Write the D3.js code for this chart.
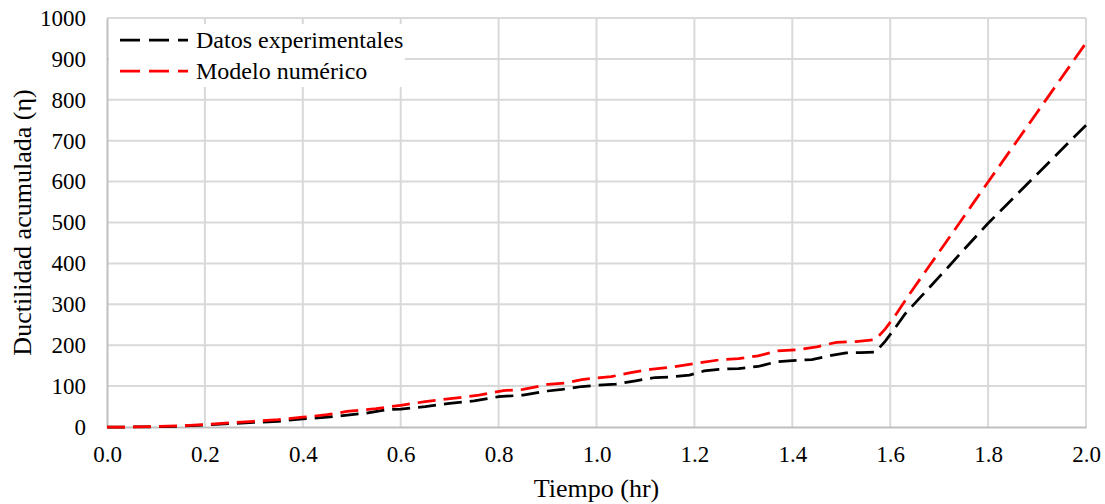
<!DOCTYPE html>
<html>
<head>
<meta charset="utf-8">
<style>
  body { margin: 0; background: #fff; }
  text { font-family: "Liberation Serif", "Times New Roman", serif; fill: #000; }
</style>
<title>Ductilidad acumulada</title>
</head>
<body>
<script src="https://cdn.jsdelivr.net/npm/d3@7"></script>
<script>

// DATA
var xTicks = [0, 0.2, 0.4, 0.6, 0.8, 1.0, 1.2, 1.4, 1.6, 1.8, 2.0];
var yTicks = [0, 100, 200, 300, 400, 500, 600, 700, 800, 900, 1000];

var expTime = [0, 0.05, 0.1, 0.15, 0.2, 0.25, 0.3, 0.35, 0.4, 0.45, 0.5, 0.53, 0.57, 0.6, 0.65, 0.7, 0.75,
  0.8, 0.85, 0.9, 0.93, 0.97, 1.0, 1.04, 1.08, 1.12, 1.15, 1.19, 1.22, 1.25, 1.29, 1.33, 1.37, 1.40,
  1.44, 1.48, 1.51, 1.54, 1.57, 1.59, 1.61, 1.63, 1.66, 1.68, 1.70, 1.72, 1.75, 1.78, 1.80, 1.84,
  1.88, 1.92, 1.96, 2.0];
var expValue = [0, 0, 0.5, 2, 5, 8, 11, 14, 20, 24, 30, 34, 42, 44, 50, 58, 64,
  74, 78, 88, 92, 99, 102, 105, 113, 121, 122, 127, 137, 141, 143, 148, 160, 162,
  165, 175, 181, 182, 183, 210, 242, 276, 315, 341, 367, 393, 433, 472, 498, 546,
  594, 642, 690, 738];

var numTime = [0, 0.05, 0.1, 0.15, 0.2, 0.25, 0.3, 0.35, 0.4, 0.45, 0.49, 0.55, 0.6, 0.65, 0.72, 0.76,
  0.81, 0.85, 0.9, 0.94, 0.97, 1.0, 1.03, 1.07, 1.11, 1.15, 1.2, 1.25, 1.29, 1.33, 1.37, 1.41,
  1.45, 1.49, 1.53, 1.57, 1.59, 1.61, 1.64, 1.67, 1.70, 1.73, 1.77, 1.80, 1.85, 1.90, 1.95, 2.0];
var numValue = [0, 0, 1, 3, 6, 10, 14, 18, 24, 30, 38, 45, 53, 62, 72, 78,
  89, 92, 104, 108, 116, 120, 123, 133, 141, 146, 155, 164, 167, 174, 186, 189,
  196, 207, 209, 214, 240, 272, 326, 377, 428, 479, 548, 599, 684, 769, 854, 939];

var seriesNames = ["Datos experimentales", "Modelo numérico"];
var seriesColors = ["#000000", "#ff0000"];

var width = 1105, height = 504;
var margin = {top: 18, right: 19, bottom: 77, left: 107};
var serif = "Liberation Serif, Times New Roman, serif";

var svg = d3.select("body").append("svg")
  .attr("width", width)
  .attr("height", height);

var x = d3.scaleLinear().domain([0, 2]).range([margin.left, width - margin.right]);
var y = d3.scaleLinear().domain([0, 1000]).range([height - margin.bottom, margin.top]);

// GRID
svg.append("g").selectAll("line")
  .data(yTicks.slice(1))
  .enter().append("line")
  .attr("x1", x(0)).attr("x2", x(2))
  .attr("y1", function(d) { return y(d); })
  .attr("y2", function(d) { return y(d); })
  .attr("stroke", "#d9d9d9")
  .attr("stroke-width", 2);

svg.append("g").selectAll("line")
  .data(xTicks.slice(1))
  .enter().append("line")
  .attr("y1", y(0)).attr("y2", y(1000))
  .attr("x1", function(d) { return x(d); })
  .attr("x2", function(d) { return x(d); })
  .attr("stroke", "#d9d9d9")
  .attr("stroke-width", 2);

// AXES
var xAxis = svg.append("g")
  .attr("transform", "translate(0," + y(0) + ")")
  .call(d3.axisBottom(x).tickValues(xTicks).tickSize(0).tickPadding(19)
    .tickFormat(d3.format(".1f")));
var yAxis = svg.append("g")
  .attr("transform", "translate(" + x(0) + ",0)")
  .call(d3.axisLeft(y).tickValues(yTicks).tickSize(0).tickPadding(21)
    .tickFormat(d3.format("d")));

[xAxis, yAxis].forEach(function(a) {
  a.attr("font-family", serif).attr("font-size", 23);
  a.select(".domain").attr("stroke", "#bfbfbf").attr("stroke-width", 2);
  a.selectAll("text").attr("fill", "#000");
});

// LINES
var line = d3.line()
  .x(function(d) { return x(d[0]); })
  .y(function(d) { return y(d[1]); });

var series = [d3.zip(expTime, expValue), d3.zip(numTime, numValue)];

svg.append("g").selectAll("path")
  .data(series)
  .enter().append("path")
  .attr("d", line)
  .attr("fill", "none")
  .attr("stroke", function(d, i) { return seriesColors[i]; })
  .attr("stroke-width", 2.75)
  .attr("stroke-dasharray", "18,8");

// LEGEND
var legend = svg.append("g");
legend.append("rect")
  .attr("x", 109).attr("y", 24)
  .attr("width", 296).attr("height", 63)
  .attr("fill", "#fff");

var legendItem = legend.selectAll(".item")
  .data(seriesNames)
  .enter().append("g")
  .attr("transform", function(d, i) { return "translate(0," + (40 + i * 31) + ")"; });

legendItem.append("line")
  .attr("x1", 120).attr("x2", 188)
  .attr("stroke", function(d, i) { return seriesColors[i]; })
  .attr("stroke-width", 2.75)
  .attr("stroke-dasharray", "20,9");

legendItem.append("text")
  .attr("x", 196).attr("y", 8)
  .style("font-size", "24px")
  .text(function(d) { return d; });

// AXIS TITLES
svg.append("text")
  .attr("x", (x(0) + x(2)) / 2)
  .attr("y", 497)
  .attr("text-anchor", "middle")
  .style("font-size", "26px")
  .text("Tiempo (hr)");

svg.append("text")
  .attr("transform", "translate(31," + ((y(0) + y(1000)) / 2) + ") rotate(-90)")
  .attr("text-anchor", "middle")
  .style("font-size", "26px")
  .text("Ductilidad acumulada (η)");

</script>
</body>
</html>
